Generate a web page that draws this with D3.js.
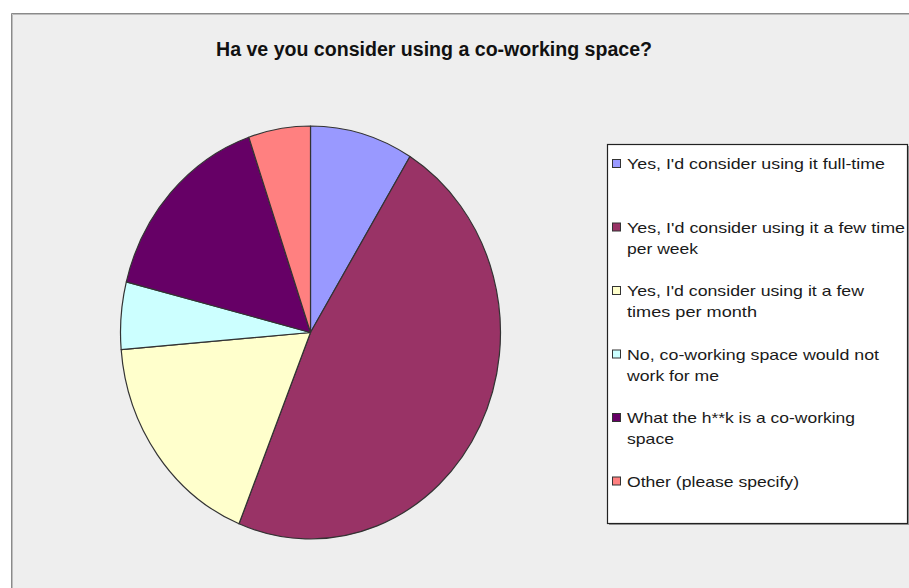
<!DOCTYPE html>
<html>
<head>
<meta charset="utf-8">
<script src="https://cdn.jsdelivr.net/npm/d3@7"></script>
<style>
  html, body { margin: 0; padding: 0; background: #ffffff; }
  svg { display: block; font-family: "Liberation Sans", Arial, sans-serif; }
</style>
</head>
<body>
<svg id="chart" width="909" height="588"></svg>
<script>
// Survey: "Have you consider using a co-working space?"
const categories = [
  "Yes, I'd consider using it full-time",
  "Yes, I'd consider using it a few time per week",
  "Yes, I'd consider using it a few times per month",
  "No, co-working space would not work for me",
  "What the h**k is a co-working space",
  "Other (please specify)"
];
// Wrapped legend lines for each category
const legendLines = [
  ["Yes, I'd consider using it full-time"],
  ["Yes, I'd consider using it a few time", "per week"],
  ["Yes, I'd consider using it a few", "times per month"],
  ["No, co-working space would not", "work for me"],
  ["What the h**k is a co-working", "space"],
  ["Other (please specify)"]
];
const responses = [5, 27, 10, 3, 9, 3];
const sliceColors = ["#9999ff", "#993366", "#ffffcc", "#ccffff", "#660066", "#ff8080"];
const titleText = "Ha ve you consider using a co-working space?";

const W = 909, H = 588;
const svg = d3.select("#chart");

// Chart area panel with its top/left frame
const panel = { x: 11, y: 13 };
svg.append("rect")
  .attr("x", panel.x).attr("y", panel.y)
  .attr("width", W - panel.x + 5).attr("height", H - panel.y + 5)
  .attr("fill", "#eeeeee");
svg.append("path")
  .attr("d", `M${panel.x + 0.5},${H} V${panel.y + 0.5} H${W}`)
  .attr("fill", "none").attr("stroke", "#8a8a8a").attr("stroke-width", 1);
svg.append("path")
  .attr("d", `M${panel.x + 1.5},${H} V${panel.y + 1.5} H${W}`)
  .attr("fill", "none").attr("stroke", "#bdbdbd").attr("stroke-width", 1);

// Title
svg.append("text")
  .attr("x", 216).attr("y", 56)
  .attr("font-size", 20).attr("font-weight", "bold")
  .attr("fill", "#111")
  .attr("textLength", 436).attr("lengthAdjust", "spacingAndGlyphs")
  .text(titleText);

// Pie (slightly taller than wide)
const cx = 310.5, cy = 332.5, rx = 190, ry = 206.5;
const pie = d3.pie().sort(null).value(d => d).startAngle(0).endAngle(2 * Math.PI);
const arc = d3.arc().innerRadius(0).outerRadius(ry);
const pieG = svg.append("g")
  .attr("transform", `translate(${cx},${cy}) scale(${rx / ry},1)`);
pieG.selectAll("path")
  .data(pie(responses))
  .join("path")
  .attr("d", arc)
  .attr("fill", (d, i) => sliceColors[i])
  .attr("stroke", "#333333")
  .attr("stroke-width", 1.2)
  .attr("vector-effect", "non-scaling-stroke")
  .attr("stroke-linejoin", "round");

// Legend box
const lg = { x: 607, y: 144, w: 300, h: 379 };
svg.append("rect")
  .attr("x", lg.x + 2).attr("y", lg.y + 2).attr("width", lg.w).attr("height", lg.h)
  .attr("fill", "#9a9a9a");
svg.append("rect")
  .attr("x", lg.x + 0.5).attr("y", lg.y + 0.5).attr("width", lg.w).attr("height", lg.h)
  .attr("fill", "#ffffff").attr("stroke", "#222").attr("stroke-width", 1.2);

// Legend entries
const itemY = d3.scaleLinear().domain([0, categories.length - 1]).range([164, 481.5]);
const lineH = 21;
const lineWidths = [[258], [278, 71], [237, 130], [252, 92], [228, 47], [172]];
const items = svg.append("g").selectAll("g")
  .data(categories)
  .join("g")
  .attr("transform", (d, i) => `translate(${lg.x}, ${itemY(i)})`);
items.append("rect")
  .attr("x", 5.5).attr("y", -4.5).attr("width", 8).attr("height", 8)
  .attr("fill", (d, i) => sliceColors[i])
  .attr("stroke", "#333").attr("stroke-width", 1);
items.each(function (d, i) {
  const g = d3.select(this);
  legendLines[i].forEach((line, j) => {
    g.append("text")
      .attr("x", 20).attr("y", 5 + j * lineH)
      .attr("font-size", 14.5)
      .attr("fill", "#1a1a1a")
      .attr("textLength", lineWidths[i][j])
      .attr("lengthAdjust", "spacingAndGlyphs")
      .text(line);
  });
});
</script>
</body>
</html>
